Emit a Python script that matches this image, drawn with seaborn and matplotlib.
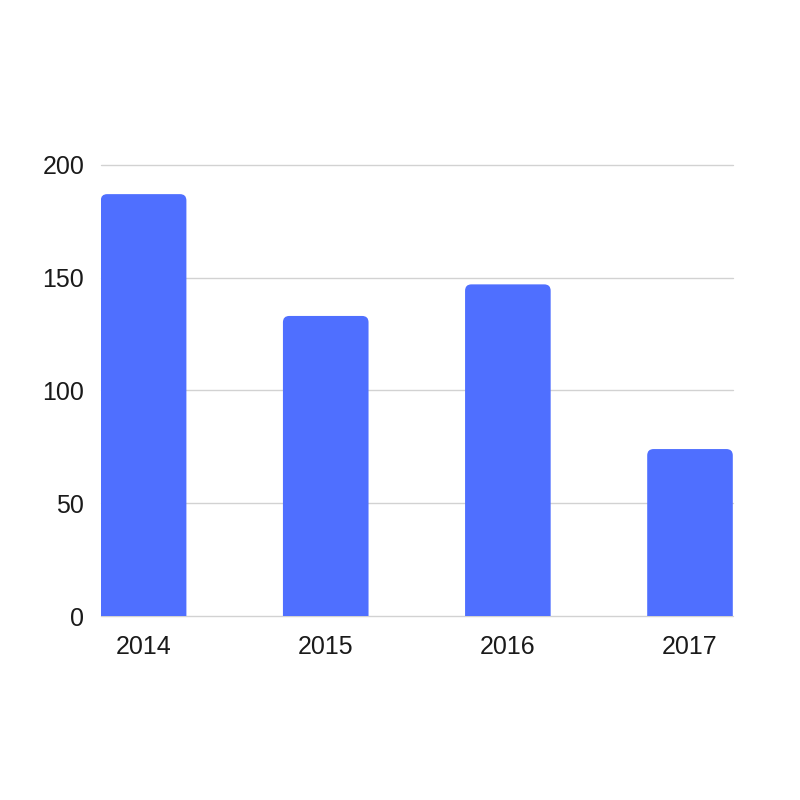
import seaborn as sns
from matplotlib import pyplot as plt
from matplotlib.patches import FancyBboxPatch
import pandas as pd

years = ['2014', '2015', '2016', '2017']
values = [187, 133, 147, 74]

df = pd.DataFrame({'year': years, 'value': values})

sns.set_style('white')
plt.rcParams['font.family'] = ['Liberation Sans', 'DejaVu Sans']

fig = plt.figure(figsize=(8, 8), dpi=100)
ax = fig.add_axes([0.126, 0.23, 0.79, 0.564])
sns.barplot(data=df, x='year', y='value', color='#4f6fff', saturation=1, width=0.47, ax=ax, zorder=3)

ax.set_xlim(-0.235, 3.235)
ax.set_ylim(0, 200)
ax.set_yticks([0, 50, 100, 150, 200])
ax.set_xlabel('')
ax.set_ylabel('')
ax.yaxis.grid(True, color='#d2d2d2', linewidth=1)
for gl in ax.get_ygridlines():
    gl.set_clip_on(False)
ax.set_axisbelow(True)
for s in ax.spines.values():
    s.set_visible(False)
ax.tick_params(axis='both', length=0, labelsize=18, colors='#1a1a1a')
ax.tick_params(axis='y', pad=12)
ax.tick_params(axis='x', pad=14)

# rounded top corners
fig.canvas.draw()
px_x = ax.transData.transform((1, 0))[0] - ax.transData.transform((0, 0))[0]
px_y = ax.transData.transform((0, 1))[1] - ax.transData.transform((0, 0))[1]
aspect = px_x / px_y
for p in list(ax.patches):
    x, w, h = p.get_x(), p.get_width(), p.get_height()
    fb = FancyBboxPatch((x, -20), w, h + 20,
                        boxstyle='round,pad=0,rounding_size=0.035',
                        mutation_aspect=aspect, facecolor=p.get_facecolor(),
                        edgecolor='none', zorder=3)
    p.remove()
    ax.add_patch(fb)

fig.savefig('out.png', dpi=100)
